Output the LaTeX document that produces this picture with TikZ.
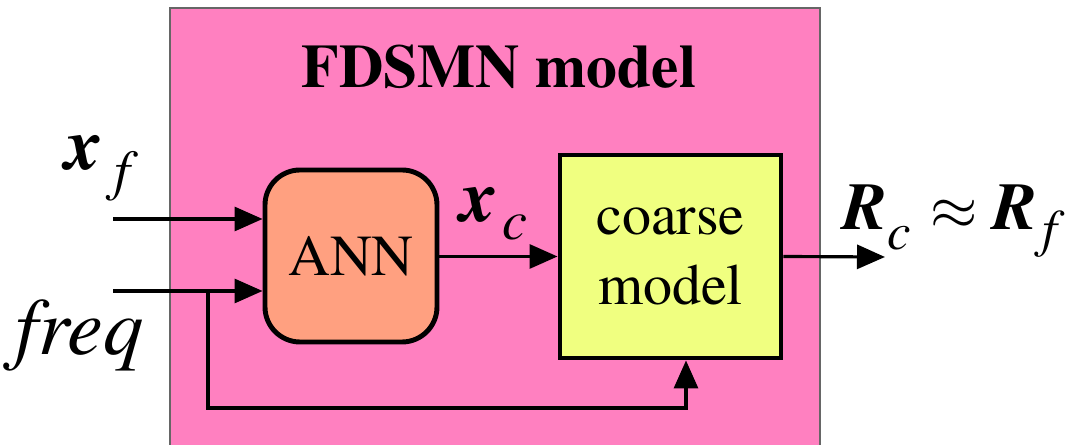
\documentclass[tikz,border=0pt]{standalone}
\usepackage{fontspec}
\setmainfont{TeX Gyre Termes}
\usetikzlibrary{arrows.meta,calc}

\definecolor{fdsmnpink}{RGB}{255,128,192}
\definecolor{annsalmon}{RGB}{255,160,128}
\definecolor{coarseyellow}{RGB}{240,255,128}

\tikzset{
  arr/.style={line width=0.9pt, -{Triangle[length=0.28cm,width=0.24cm]}},
  blockbox/.style={draw, line width=1.4pt, minimum width=#1, align=center},
}

\begin{document}
\begin{tikzpicture}
\useasboundingbox (0,0) rectangle (10.73,4.45);
\clip (0,0) rectangle (10.73,4.45);

% outer model frame
\draw[fill=fdsmnpink, draw=black!60, line width=0.5pt] (1.70,-0.2) rectangle (8.20,4.37);
\node[anchor=base] (title) at (4.99,3.57) {\fontsize{17.5}{20}\selectfont\bfseries FDSMN model};

% blocks
\node[blockbox=1.72cm, minimum height=1.72cm, rounded corners=0.35cm, fill=annsalmon,
  font=\fontsize{16.5}{20}\selectfont] (ann) at (3.51,1.89) {ANN};
\node[blockbox=2.21cm, minimum height=2.03cm, fill=coarseyellow,
  font=\fontsize{16.5}{20}\selectfont] (coarse) at (6.705,1.885) {coarse\\model};

% inputs and output
\coordinate (xf) at (1.13,2.26);
\coordinate (fq) at (1.13,1.54);
\coordinate (br) at (2.08,1.54);
\coordinate (out) at (8.85,1.88);

\draw[arr] (xf) -- (xf -| ann.west);
\draw[arr] (fq) -- (fq -| ann.west);
\draw[arr] (ann.east |- coarse.west) -- (coarse.west);
\draw[arr] (coarse.east) -- (out);
\draw[arr] (br) -- (2.08,0.37) -| ($(coarse.south)+(0.155,0)$);

% labels
\node[anchor=base west, inner sep=0] (lxf) at (0.65,2.75)
  {\fontsize{21}{22}\selectfont\bfseries\itshape x\kern0.12cm\raisebox{-0.2cm}{\fontsize{16}{16}\selectfont\mdseries f}};
\node[anchor=base west, inner sep=0] (lfq) at (0.15,0.90)
  {\fontsize{23}{24}\selectfont\itshape freq};
\node[anchor=base west, inner sep=0] (lxc) at (4.60,2.23)
  {\fontsize{21}{22}\selectfont\bfseries\itshape x\kern0.05cm\raisebox{-0.18cm}{\fontsize{16}{16}\selectfont\mdseries c}};
\node[anchor=base west, inner sep=0] (lr) at (8.42,2.15)
  {\fontsize{19}{20}\selectfont\bfseries\itshape R\raisebox{-0.2cm}{\fontsize{15}{15}\selectfont\mdseries c}\kern0.2cm$\approx$\kern0.15cm R\kern0.05cm\raisebox{-0.17cm}{\fontsize{15}{15}\selectfont\mdseries f}};
\end{tikzpicture}
\end{document}
